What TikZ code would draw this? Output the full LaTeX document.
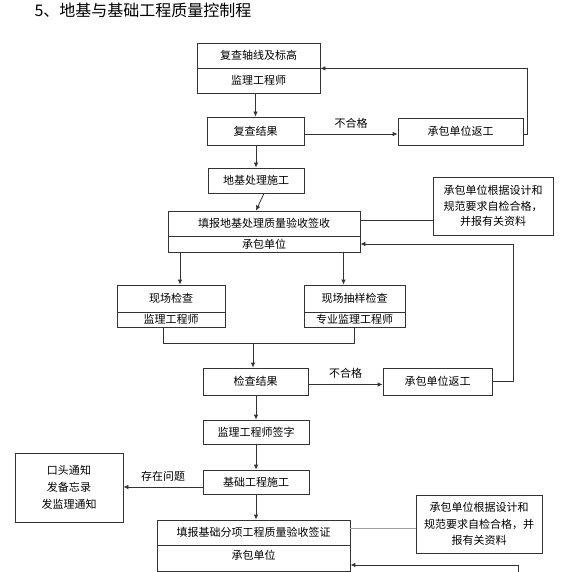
\documentclass[tikz,border=0pt]{standalone}
\usepackage{fontspec}
\setmainfont{Noto Sans CJK SC}
\usetikzlibrary{arrows.meta}

\begin{document}
\begin{tikzpicture}[x=1pt,y=-1pt,
  box/.style={draw=edge, line width=0.8pt, inner sep=0pt, font=\fontsize{11}{13}\selectfont},
  arr/.style={draw=edge, line width=0.8pt, -{Latex[length=5pt,width=4.5pt]}},
  link/.style={draw=edge, line width=0.8pt},
  lbl/.style={font=\fontsize{11}{13}\selectfont}]
\definecolor{edge}{HTML}{333333}
\definecolor{pale}{HTML}{A0A0A0}
\useasboundingbox (0,0) rectangle (560,572);
%Title:
\node[anchor=west, font=\fontsize{16}{18}\selectfont] (title) at (31,10) {5、地基与基础工程质量控制程};
%Boxes:
\node[box, minimum width=123, minimum height=25] (axis) at (258.5,55.5) {复查轴线及标高};
\node[box, minimum width=123, minimum height=25] (axisB) at (258.5,80.5) {监理工程师};
\node[box, minimum width=97, minimum height=28] (res1) at (255.5,131) {复查结果};
\node[box, minimum width=125, minimum height=27] (redo1) at (460.5,131.5) {承包单位返工};
\node[box, minimum width=96, minimum height=25] (base) at (256,180.5) {地基处理施工};
\node[box, minimum width=192, minimum height=25] (form1) at (264,223.5) {填报地基处理质量验收签收};
\node[box, minimum width=192, minimum height=16] (form1B) at (264,244) {承包单位};
\node[box, minimum width=120, minimum height=58, align=center, font=\fontsize{11}{15.5}\selectfont] (note1) at (493,206) {承包单位根据设计和\\规范要求自检合格，\\并报有关资料};
\node[box, minimum width=108, minimum height=27] (site) at (171,298.5) {现场检查};
\node[box, minimum width=108, minimum height=15] (siteB) at (171,319.5) {监理工程师};
\node[box, minimum width=101, minimum height=27] (samp) at (354.5,298.5) {现场抽样检查};
\node[box, minimum width=101, minimum height=15] (sampB) at (354.5,319.5) {专业监理工程师};
\node[box, minimum width=105, minimum height=27] (res2) at (255.5,381.5) {检查结果};
\node[box, minimum width=109, minimum height=27] (redo2) at (437.5,381.5) {承包单位返工};
\node[box, minimum width=106, minimum height=24] (sign) at (256,432) {监理工程师签字};
\node[box, minimum width=106, minimum height=24] (build) at (256,482) {基础工程施工};
\node[box, minimum width=108, minimum height=69, align=center, font=\fontsize{11}{17}\selectfont] (notice) at (69,487.5) {口头通知\\发备忘录\\发监理通知};
\node[box, minimum width=193, minimum height=25] (form2) at (253.5,532.5) {填报基础分项工程质量验收签证};
\node[box, minimum width=193, minimum height=26] (form2B) at (253.5,558) {\raisebox{7pt}{承包单位}};
\node[box, minimum width=126, minimum height=58, align=center, font=\fontsize{11}{16.5}\selectfont] (note2) at (479,524) {承包单位根据设计和\\规范要求自检合格，并\\报有关资料};
%Helper points:
\coordinate (fail1) at ([yshift=-3pt]res1.east);
\coordinate (back1) at ([yshift=-3pt]redo1.east);
\coordinate (fail2) at ([yshift=-3pt]res2.east);
\coordinate (siteIn) at ([xshift=9pt]site.north);
\coordinate (sampIn) at ([xshift=-11pt]samp.north);
\coordinate (siteOut) at ([xshift=-8pt]siteB.south);
\coordinate (join) at (253,343);
\coordinate (toNotice) at ([yshift=-5pt]build.west);
\coordinate (toNote2) at ([yshift=4pt]form2.east);
\coordinate (toNote1) at ([yshift=3pt]form1.east);
\coordinate (back2In) at ([yshift=-7pt]form2B.east);
\coordinate (back2) at (518,572);
%Main line:
\draw[arr] (axisB.south -| res1.north) -- (res1.north);
\draw[arr] (res1.south -| base.north) -- (base.north);
\draw[arr] (base.south -| form1.north) -- (base.south |- form1.north);
\draw[arr] (siteIn |- form1B.south) -- (siteIn);
\draw[arr] (sampIn |- form1B.south) -- (sampIn);
\draw[link] (siteOut) |- (sampB.south |- join) -- (sampB.south);
\draw[arr] (join) -- (join |- res2.north);
\draw[arr] (res2.south -| sign.north) -- (sign.north);
\draw[arr] (sign.south) -- (build.north);
\draw[arr] (build.south) -- (build.south |- form2.north);
%Rework loops:
\draw[arr] (fail1) -- (fail1 -| redo1.west) node[lbl, midway, above=2pt] {不合格};
\draw[arr] (back1) -- ++(4,0) |- (axis.south east);
\draw[arr] (fail2) -- (fail2 -| redo2.west) node[lbl, midway, above=2pt] {不合格};
\draw[arr] (redo2.east) -- ++(21,0) |- (form1B.east);
\draw[arr] (back2) |- (back2In);
%Side notes:
\draw[link] (toNote1) -- (toNote1 -| note1.west);
\draw[link, draw=pale] (toNote2) -- (toNote2 -| note2.west);
\draw[arr] (toNotice) -- (toNotice -| notice.east) node[lbl, midway, above=2pt] {存在问题};
\end{tikzpicture}
\end{document}
